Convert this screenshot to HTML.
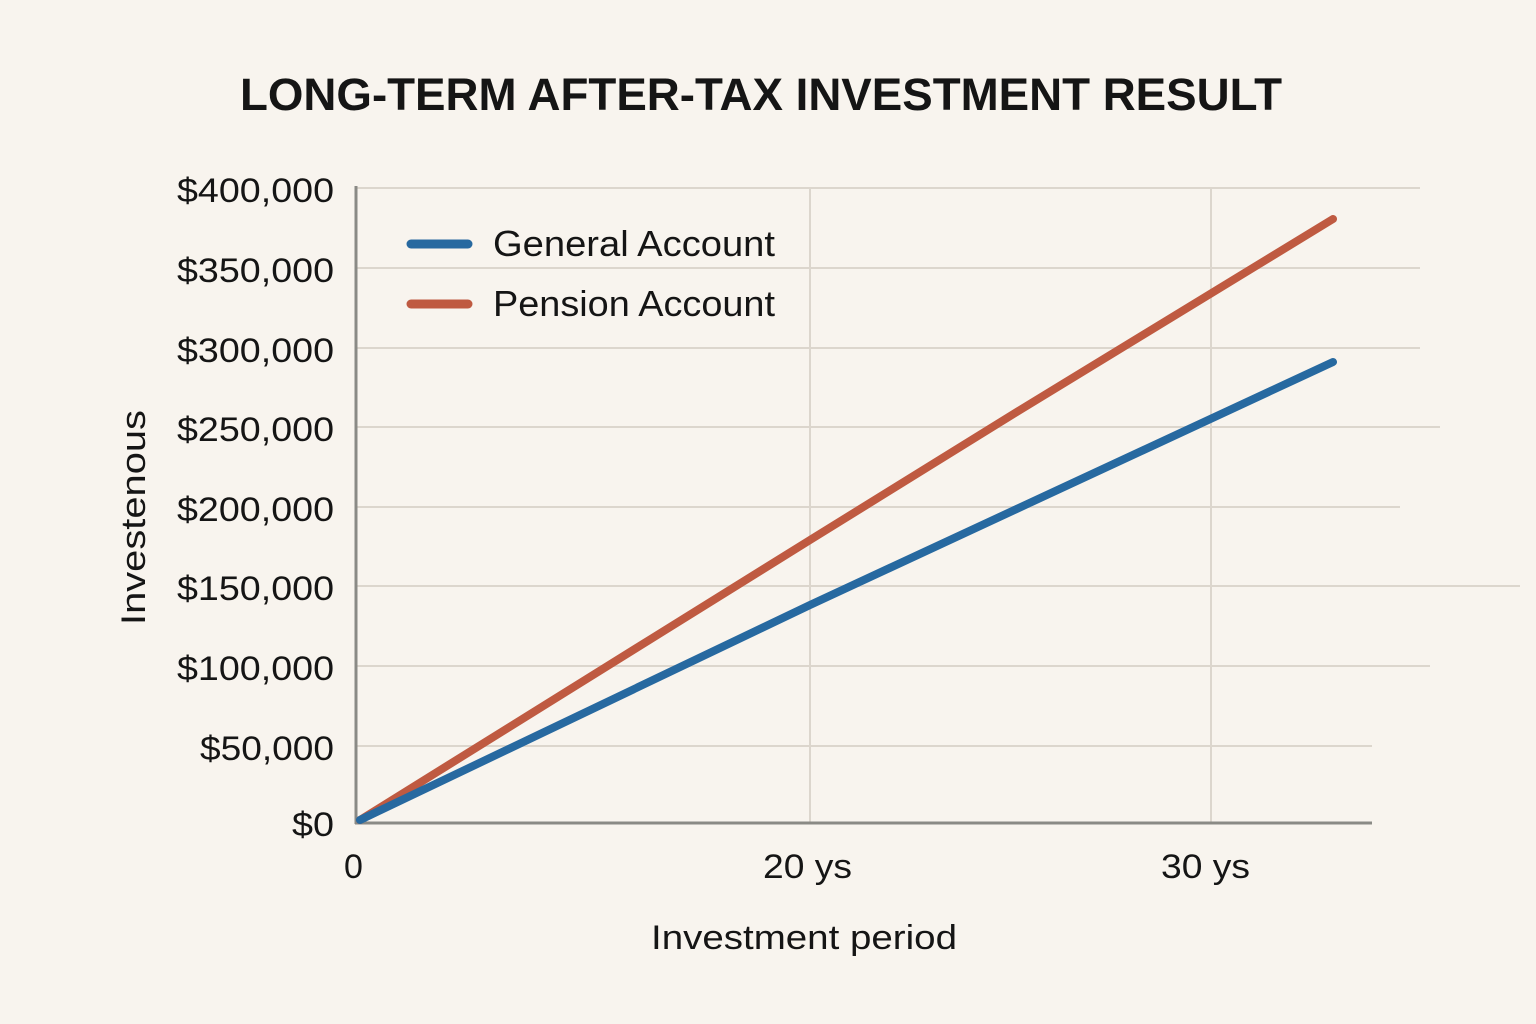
<!DOCTYPE html>
<html><head><style>
body{margin:0;background:#f8f4ee;}
svg{display:block;}
text{font-family:"Liberation Sans","DejaVu Sans",sans-serif;fill:#151515;}
</style></head><body>
<svg width="1536" height="1024" viewBox="0 0 1536 1024">
<rect width="1536" height="1024" fill="#f8f4ee"/>
<text x="240" y="110" font-size="45" font-weight="bold" textLength="1042" lengthAdjust="spacingAndGlyphs">LONG-TERM AFTER-TAX INVESTMENT RESULT</text>
<g stroke="#dcd6cd" stroke-width="2">
<line x1="356" y1="188" x2="1420" y2="188"/>
<line x1="356" y1="268" x2="1420" y2="268"/>
<line x1="356" y1="348" x2="1420" y2="348"/>
<line x1="356" y1="427" x2="1440" y2="427"/>
<line x1="356" y1="507" x2="1400" y2="507"/>
<line x1="356" y1="586" x2="1520" y2="586"/>
<line x1="356" y1="666" x2="1430" y2="666"/>
<line x1="356" y1="746" x2="1372" y2="746"/>
<line x1="810" y1="188" x2="810" y2="823"/>
<line x1="1211" y1="188" x2="1211" y2="823"/>
</g>
<line x1="356" y1="186" x2="356" y2="824" stroke="#8a8a85" stroke-width="3"/>
<line x1="355" y1="823" x2="1372" y2="823" stroke="#8a8a85" stroke-width="3"/>
<g font-size="34" text-anchor="end">
<text x="334" y="202" textLength="157" lengthAdjust="spacingAndGlyphs">$400,000</text>
<text x="334" y="282" textLength="157" lengthAdjust="spacingAndGlyphs">$350,000</text>
<text x="334" y="362" textLength="157" lengthAdjust="spacingAndGlyphs">$300,000</text>
<text x="334" y="441" textLength="157" lengthAdjust="spacingAndGlyphs">$250,000</text>
<text x="334" y="521" textLength="157" lengthAdjust="spacingAndGlyphs">$200,000</text>
<text x="334" y="600" textLength="157" lengthAdjust="spacingAndGlyphs">$150,000</text>
<text x="334" y="680" textLength="157" lengthAdjust="spacingAndGlyphs">$100,000</text>
<text x="334" y="760" textLength="134" lengthAdjust="spacingAndGlyphs">$50,000</text>
<text x="334" y="836" textLength="42" lengthAdjust="spacingAndGlyphs">$0</text>
</g>
<g font-size="34">
<text x="344" y="878">0</text>
<text x="763" y="878" textLength="89" lengthAdjust="spacingAndGlyphs">20 ys</text>
<text x="1161" y="878" textLength="89" lengthAdjust="spacingAndGlyphs">30 ys</text>
<text x="651" y="949" textLength="306" lengthAdjust="spacingAndGlyphs">Investment period</text>
</g>
<text transform="translate(145,625) rotate(-90)" font-size="34" textLength="215" lengthAdjust="spacingAndGlyphs">Investenous</text>
<path d="M360,820 L810,540 L1020,410 L1333,219" fill="none" stroke="#bf5a41" stroke-width="8" stroke-linecap="round" stroke-linejoin="round"/>
<path d="M360,820 L810,605 L1333,362" fill="none" stroke="#2769a0" stroke-width="8" stroke-linecap="round"/>
<line x1="411" y1="244" x2="468" y2="244" stroke="#2769a0" stroke-width="9" stroke-linecap="round"/>
<line x1="411" y1="304" x2="468" y2="304" stroke="#bf5a41" stroke-width="9" stroke-linecap="round"/>
<text x="493" y="256" font-size="36" textLength="282" lengthAdjust="spacingAndGlyphs">General Account</text>
<text x="493" y="316" font-size="36" textLength="282" lengthAdjust="spacingAndGlyphs">Pension Account</text>
</svg>
</body></html>
